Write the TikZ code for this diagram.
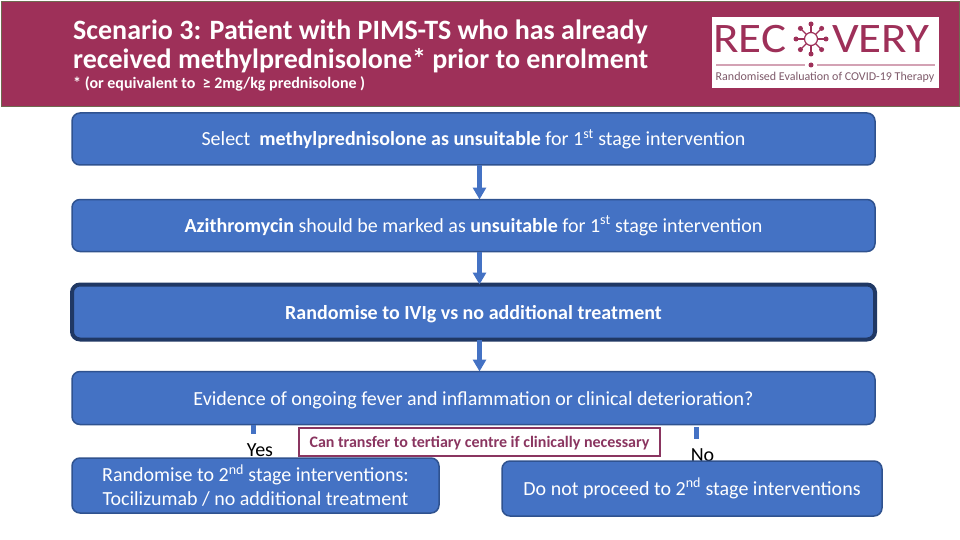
\documentclass[tikz,border=0pt]{standalone}
\usepackage{graphicx}
\usepackage{fontspec}
\setmainfont{Carlito}
\usetikzlibrary{positioning,arrows.meta}
\definecolor{rowan}{HTML}{9E3059}
\definecolor{rowanline}{HTML}{6F6A50}
\definecolor{plum}{HTML}{8A3560}
\definecolor{logogrey}{HTML}{7E5A6A}
\definecolor{stepblue}{HTML}{4472C4}
\definecolor{stepline}{HTML}{2F528F}
\definecolor{darkline}{HTML}{203864}

\begin{document}
\begin{tikzpicture}
    [ x = 1pt, y = -1pt
    , stepbox/.style =
      { draw=stepline, fill=stepblue, text=white, rounded corners=8pt, line width=1.5pt
      , minimum width=803pt, minimum height=52pt, inner sep=0pt, outer sep=0pt, align=center
      , font=\fontsize{20}{24}\selectfont }
    , oneline/.style =
      { text height=19pt, text depth=5pt }
    , arrow/.style =
      { draw=stepblue, line width=5pt, -{Triangle[width=13pt,length=12pt]} }
    , stub/.style =
      { draw=stepblue, line width=5pt }
    , answer/.style =
      { text=black, inner sep=0pt, font=\fontsize{20}{24}\selectfont }
    , logotext/.style =
      { text=rowan, inner sep=0pt, font=\fontsize{42}{42}\selectfont }
    ]
    \useasboundingbox (0,0) rectangle (960,540);

    % header
    \node [draw=rowanline, fill=rowan, line width=1.5pt, minimum width=958.5pt, minimum height=105pt, anchor=north west, inner sep=0pt] (header) at (.75,.75) {};
    \node [text=white, anchor=north west, inner sep=0pt, align=left, font=\fontsize{28}{29}\selectfont\bfseries] (title) at (73,20) {Scenario 3: Patient with PIMS-TS who has already\\received methylprednisolone* prior to enrolment};
    \node [text=white, anchor=north west, inner sep=0pt, font=\fontsize{16}{18}\selectfont\bfseries] (note) at (73,76) {* (or equivalent to \ ≥ 2mg/kg prednisolone )};

    % logo
    \node [fill=white, minimum width=227pt, minimum height=71pt, anchor=north west, inner sep=0pt] (logo) at (712,17) {};
    \node [logotext, anchor=west] (rec) at (713,39) {\scalebox{1.12}[1]{REC}};
    \node [logotext, anchor=west] (very) at (832,39) {\scalebox{1.12}[1]{VERY}};
    \node [text=logogrey, inner sep=0pt, font=\fontsize{12}{14}\selectfont] (therapy) at (825,77) {Randomised Evaluation of COVID-19 Therapy};
    \coordinate (virus) at (811,39);
    \foreach \a in {0,45,...,315}
      \draw [rowan, line width=1.2pt] (virus) ++(\a:6) -- ++(\a:9) node [circle, fill=rowan, inner sep=0pt, minimum size=5pt] (spike\a) {};
    \draw [rowan, line width=1.2pt] (virus) circle (6.5);
    \draw [rowan!45, line width=2pt] (716,65) -- (805,65);
    \draw [rowan!45, line width=2pt] (817,65) -- (935,65);
    \node [circle, fill=rowan, inner sep=0pt, minimum size=5pt] (dot) at (811,65) {};

    % flow
    \node [stepbox,oneline] (select) at (473.5,139) {Select \ \textbf{methylprednisolone as unsuitable} for 1\textsuperscript{st} stage intervention};
    \node [stepbox,oneline] (azithro) [below=34.5pt of select] {\textbf{Azithromycin} should be marked as \textbf{unsuitable} for 1\textsuperscript{st} stage intervention};
    \node [stepbox,oneline, draw=darkline, line width=4pt, minimum height=55pt] (ivig) [below=33pt of azithro] {\textbf{Randomise to IVIg vs no additional treatment}};
    \node [stepbox,oneline, minimum height=53pt] (evidence) [below=32pt of ivig] {Evidence of ongoing fever and inflammation or clinical deterioration?};

    \coordinate (spine) at (479.5,0);
    \draw [arrow] (select.south -| spine) -- (azithro.north -| spine);
    \draw [arrow] (azithro.south -| spine) -- (ivig.north -| spine);
    \draw [arrow] (ivig.south -| spine) -- (evidence.north -| spine);

    \coordinate (yesend) at (253,434);
    \coordinate (nostart) at (696.5,427);
    \coordinate (noend) at (696.5,439);
    \draw [stub] (evidence.south -| yesend) -- (yesend);
    \draw [stub] (nostart) -- (noend);

    \node [answer] (yes) at (260,450) {Yes};
    \node [answer] (no) at (702.5,455) {No};

    \node [draw=plum, fill=white, line width=1.5pt, text=plum, minimum width=361pt, minimum height=28pt, inner sep=0pt, text height=15pt, text depth=4pt, font=\fontsize{16}{18}\selectfont\bfseries] (transfer) at (479.5,442) {Can transfer to tertiary centre if clinically necessary};

    \node [stepbox, minimum width=367pt, minimum height=55pt] (second) at (255.5,485.5) {Randomise to 2\textsuperscript{nd} stage interventions:\\Tocilizumab / no additional treatment};
    \node [stepbox, minimum width=380pt, minimum height=55pt] (stop) at (692,488.5) {Do not proceed to 2\textsuperscript{nd} stage interventions};
\end{tikzpicture}
\end{document}
